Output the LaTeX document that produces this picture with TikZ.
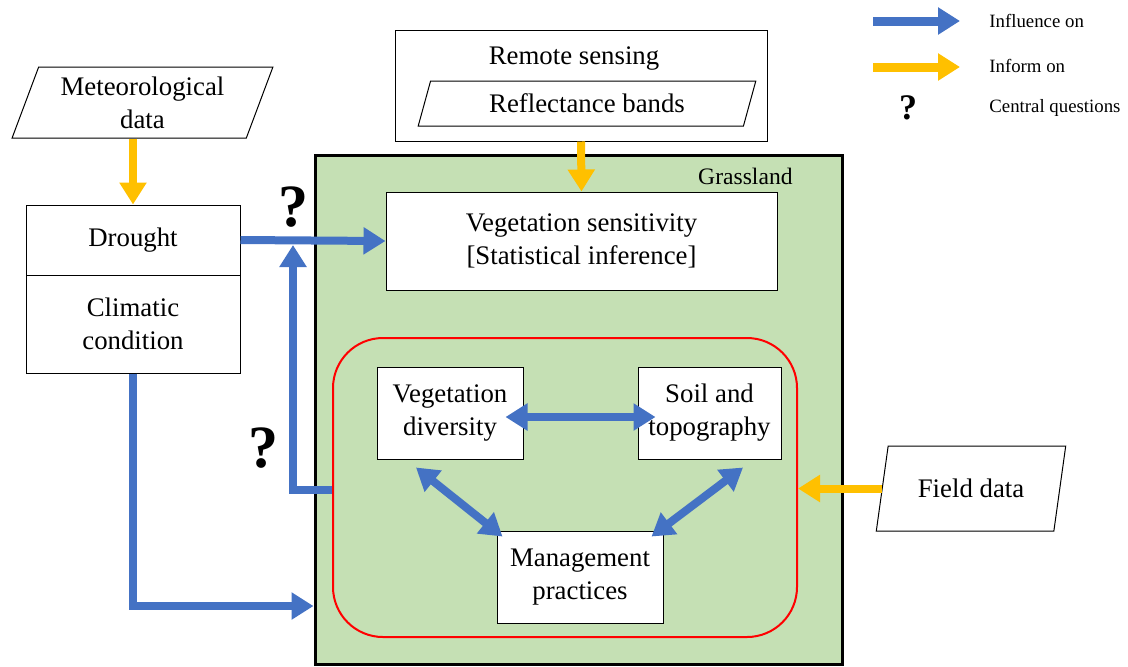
\documentclass[tikz,border=0pt]{standalone}
\usepackage{fontspec}
\setmainfont{Liberation Serif}
\usetikzlibrary{arrows.meta, positioning, shapes.geometric}
\definecolor{infblue}{HTML}{4472C4}
\definecolor{infyellow}{HTML}{FFC000}
\definecolor{grassgreen}{HTML}{C5E0B4}
\newcommand{\mainsize}{\fontsize{13.4}{16.5}\selectfont}

\begin{document}
\begin{tikzpicture}[x=0.5pt, y=-0.5pt,
    box/.style={draw, fill=white, line width=0.5pt, align=center, inner sep=0pt, font=\mainsize},
    datain/.style={box, trapezium, trapezium left angle=68, trapezium right angle=112, trapezium stretches=true},
    influence/.style={-{Triangle[length=11pt, width=13pt]}, line width=4pt, infblue},
    mutual/.style={{Triangle[length=11pt, width=13pt]}-{Triangle[length=11pt, width=13pt]}, line width=4pt, infblue},
    inform/.style={-{Triangle[length=11pt, width=13pt]}, line width=4pt, infyellow},
    question/.style={font=\fontsize{30}{30}\selectfont\bfseries, inner sep=0pt},
    legend/.style={anchor=west, inner sep=0pt, font=\fontsize{9.4}{11}\selectfont}]
    \useasboundingbox (0,0) rectangle (1128,666);

    \node[draw, line width=1.5pt, fill=grassgreen, minimum width=263.5pt, minimum height=254.5pt, inner sep=0pt] (grass) at (578.5,409.5) {};
    \node[font=\fontsize{11.8}{14}\selectfont, anchor=east, inner sep=0pt] (grasslabel) at (793,176) {Grassland};
    \node[draw=red, line width=1pt, rounded corners=25pt, minimum width=232pt, minimum height=149.5pt, inner sep=0pt] (factors) at (565,487.5) {};

    \node[datain, minimum width=130.5pt, minimum height=35.5pt] (met) at (142.5,102.5) {Meteorological\\data};
    \node[box, minimum width=107pt, minimum height=35pt] (drought) at (133,240) {\strut Drought};
    \node[box, minimum width=107pt, minimum height=49pt] (climatic) at (133,324) {Climatic\\condition};
    \node[box, minimum width=186pt, minimum height=55.5pt] (remote) at (581,85.5) {};
    \node[font=\mainsize, inner sep=0pt] (rstitle) at (574,59) {Remote sensing};
    \node[datain, minimum width=169pt, minimum height=22.5pt] (bands) at (587,103.5) {Reflectance bands};
    \node[box, minimum width=195.5pt, minimum height=49pt] (vegsens) at (581.5,241) {Vegetation sensitivity\\{}[Statistical inference]};
    \node[box, minimum width=73pt, minimum height=46pt] (vegdiv) at (450,413) {Vegetation\\diversity};
    \node[box, minimum width=71.5pt, minimum height=46pt] (soil) at (709.5,413) {Soil and\\topography};
    \node[box, minimum width=83pt, minimum height=46pt] (mgmt) at (580,577) {Management\\practices};
    \node[datain, minimum width=95pt, minimum height=42.5pt] (field) at (971,488.5) {Field data};

    \node[question] (q1) at (293,207) {?};
    \node[question] (q2) at (263,448) {?};
    \coordinate (join) at (293,245);

    \draw[inform] (drought.north |- met.south) -- (drought.north);
    \draw[inform] (remote.south) -- (vegsens.north);
    \draw[inform] (field.west) -- (field.west -| factors.east);
    \draw[influence] (drought.east) -- (vegsens.west);
    \draw[influence] (factors.west |- 0,490) -| (join);
    \draw[influence] (climatic.south) |- (grass.west |- 0,606);
    \draw[mutual, shorten <=-9pt, shorten >=-9pt] ([shift={(0,4)}]vegdiv.east) -- ([shift={(0,4)}]soil.west);
    \draw[mutual] ([shift={(-34,8)}]vegdiv.south) -- ([shift={(6,6)}]mgmt.north west);
    \draw[mutual] ([shift={(33.5,8)}]soil.south) -- ([shift={(-12,6)}]mgmt.north east);

    \coordinate (infa) at (873,21);
    \coordinate (infb) at (960,21);
    \coordinate (ima) at (873,67);
    \coordinate (imb) at (960,67);
    \draw[influence, line width=4.5pt] (infa) -- (infb);
    \draw[inform, line width=4.5pt] (ima) -- (imb);
    \node[question, font=\fontsize{18}{18}\selectfont\bfseries] (qlegend) at (908,108) {?};
    \node[legend] (inftext) at (989,21) {Influence on};
    \node[legend] (imtext) at (989,66) {Inform on};
    \node[legend] (qtext) at (989,108) {Central questions};
\end{tikzpicture}
\end{document}
